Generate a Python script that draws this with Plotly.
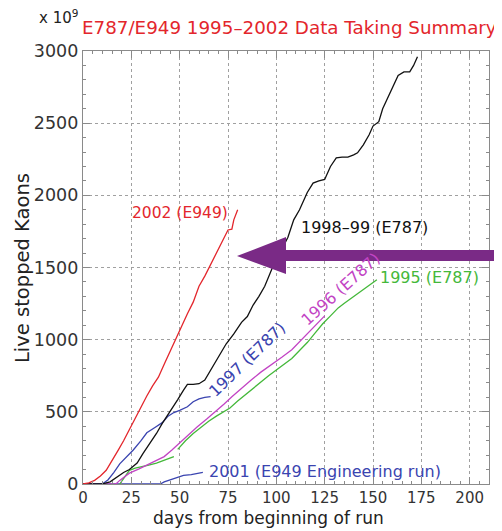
import plotly.graph_objects as go

# ---- data (days from beginning of run, live stopped kaons x 1e9) ----
d2002 = [0, 3, 6, 9, 12, 15, 18, 21, 24, 27, 30, 33, 36, 39, 42, 45, 48, 51, 54, 57, 60, 63, 66, 69, 72, 75, 77, 78, 80]
v2002 = [0, 8, 25, 55, 95, 160, 230, 300, 380, 455, 530, 610, 680, 740, 830, 920, 1010, 1100, 1180, 1260, 1370, 1440, 1520, 1610, 1680, 1760, 1765, 1830, 1900]

d1998 = [0, 10, 14, 18, 21, 24, 28, 31, 35, 38, 41, 45, 49, 52, 54, 57, 60, 63, 66, 70, 74, 78, 82, 85, 88, 91, 94, 98, 102,
         106, 109, 112, 116, 119, 122, 125, 128, 131, 134, 137, 140, 142, 145, 148, 150, 153, 155, 159, 163, 166, 169, 171, 173]
v1998 = [0, 0, 15, 50, 80, 100, 145, 210, 285, 350, 420, 500, 585, 650, 690, 690, 695, 720, 790, 880, 970, 1040, 1120, 1160, 1240, 1300, 1370, 1500, 1600,
         1710, 1830, 1900, 2020, 2085, 2100, 2110, 2200, 2260, 2265, 2265, 2280, 2295, 2350, 2420, 2480, 2510, 2600, 2710, 2830, 2855, 2855, 2900, 2960]

d1997 = [0, 10, 13, 16, 19, 22, 26, 30, 33, 37, 41, 44, 47, 50, 54, 57, 60, 63, 66]
v1997 = [0, 0, 30, 80, 140, 180, 236, 300, 355, 390, 425, 470, 495, 510, 535, 570, 590, 600, 605]

d1996 = [0, 17, 19, 24, 29, 33, 38, 42, 46, 50, 55, 59, 64, 69, 73, 77, 82, 87, 92, 98, 103, 108, 113, 118, 122, 125]
v1996 = [0, 0, 25, 75, 105, 130, 165, 190, 235, 285, 345, 395, 450, 505, 555, 605, 665, 720, 775, 830, 880, 930, 1000, 1070, 1120, 1165]

d1995a = [19, 21, 24, 27, 30, 34, 38, 42, 46, 47]
v1995a = [0, 40, 95, 110, 118, 130, 145, 165, 187, 190]
d1995b = [49, 53, 57, 61, 65, 69, 73, 76, 80, 84, 88, 92, 96, 100, 104, 108, 112, 116, 120, 124, 128, 132, 135, 138, 142, 147, 150, 152]
v1995b = [240, 300, 350, 395, 435, 470, 505, 527, 575, 620, 665, 705, 750, 790, 830, 870, 925, 980, 1045, 1110, 1165, 1220, 1250, 1280, 1320, 1365, 1395, 1415]

d2001 = [0, 40, 42, 45, 48, 52, 56, 59, 62]
v2001 = [0, 0, 15, 28, 40, 60, 65, 75, 80]

RED = "#e3262c"
BLACK = "#111111"
BLUE = "#3a44b0"
MAG = "#c244c4"
GREEN = "#44b83a"
PURPLE = "#7a2a86"

fig = go.Figure()

def add(x, y, c):
    fig.add_trace(go.Scatter(x=x, y=y, mode="lines", line=dict(color=c, width=1.3), showlegend=False, hoverinfo="skip"))

add(d2001, v2001, BLUE)
add(d1995a, v1995a, GREEN)
add(d1995b, v1995b, GREEN)
add(d1996, v1996, MAG)
add(d1997, v1997, BLUE)
add(d1998, v1998, BLACK)
add(d2002, v2002, RED)

FONT = "DejaVu Sans"

axis_common = dict(
    showline=True, linecolor="#8a8a8a", linewidth=1.3, mirror="ticks",
    ticks="inside", ticklen=7, tickcolor="#8a8a8a", tickwidth=1,
    showgrid=True, gridcolor="#a0a0a0", griddash="dot", gridwidth=1,
    zeroline=False,
)

fig.update_xaxes(range=[0, 210], dtick=25, tick0=0,
                 minor=dict(dtick=5, ticks="inside", ticklen=3, tickcolor="#8a8a8a", showgrid=False),
                 tickfont=dict(family=FONT, size=15, color="#333333"),
                 **axis_common)
fig.update_yaxes(range=[0, 3000], dtick=500, tick0=0,
                 minor=dict(dtick=100, ticks="inside", ticklen=3, tickcolor="#8a8a8a", showgrid=False),
                 tickfont=dict(family=FONT, size=17.5, color="#333333"),
                 **axis_common)

# the page body adds an 8px offset; lay the figure out in reference pixels minus that
OFF = 8
W, H = 502 - OFF, 531 - OFF
L, R, T, B = 83 - OFF, 489 - OFF, 51 - OFF, 484 - OFF
def px(xp):
    return (xp - OFF - L) / (R - L)
def py(yp):
    return (B - (yp - OFF)) / (B - T)

# axis titles (as annotations for exact placement)
fig.add_annotation(x=px(268), y=py(518), xref="paper", yref="paper", showarrow=False,
                   text="days from beginning of run", font=dict(family=FONT, size=17, color="#222"),
                   xanchor="center", yanchor="middle")
fig.add_annotation(x=px(22), y=py(268), xref="paper", yref="paper", showarrow=False,
                   text="Live stopped Kaons", font=dict(family=FONT, size=19.5, color="#222"),
                   textangle=-90, xanchor="center", yanchor="middle")

def lab(text, x, y, color, angle=0, size=16):
    fig.add_annotation(x=x, y=y, xref="x", yref="y", text=text, showarrow=False,
                       font=dict(family=FONT, size=size, color=color), textangle=angle,
                       xanchor="center", yanchor="middle")

lab("2002 (E949)", 50, 1880, RED, size=15.5)
lab("1998–99 (E787)", 145.5, 1780, BLACK)
lab("1995 (E787)", 179, 1428, GREEN)
lab("1996 (E787)", 133, 1350, MAG, angle=-42)
lab("1997 (E787)", 85, 860, BLUE, angle=-44)
lab("2001 (E949 Engineering run)", 125, 90, BLUE)

# title and exponent (paper coords)
fig.add_annotation(x=px(289), y=py(28), xref="paper", yref="paper", showarrow=False,
                   text="E787/E949 1995–2002 Data Taking Summary",
                   font=dict(family=FONT, size=18.3, color=RED), xanchor="center", yanchor="middle")
fig.add_annotation(x=px(80), y=py(17), xref="paper", yref="paper", showarrow=False,
                   text="x 10<sup>9</sup>", font=dict(family=FONT, size=15, color="#222"),
                   xanchor="right", yanchor="middle")

# purple arrow (paper coords)
pts = [(237, 256), (286, 237), (286, 250), (502, 250), (502, 261), (286, 261), (286, 274)]
path = "M " + " L ".join(f"{px(a):.4f},{py(b):.4f}" for a, b in pts) + " Z"
fig.add_shape(type="path", path=path, xref="paper", yref="paper",
              fillcolor=PURPLE, line=dict(color=PURPLE, width=0), layer="above")

fig.update_layout(
    width=W, height=H,
    margin=dict(l=L, r=W - R, t=T, b=H - B),
    paper_bgcolor="white", plot_bgcolor="white",
    showlegend=False,
)

fig.write_html("out.html")
